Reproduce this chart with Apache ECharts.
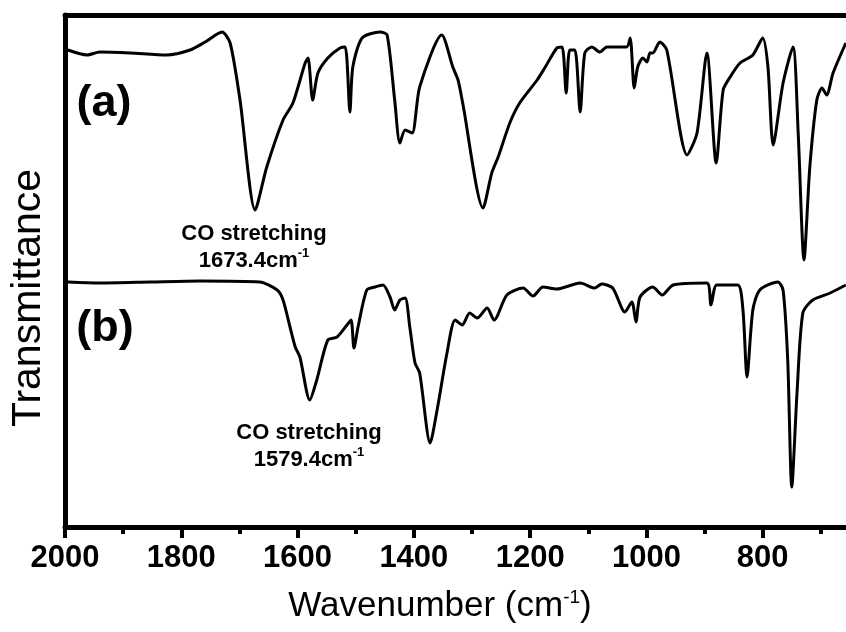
<!DOCTYPE html>
<html>
<head>
<meta charset="utf-8">
<script src="https://cdn.jsdelivr.net/npm/echarts@6/dist/echarts.min.js"></script>
<style>
  html, body { margin: 0; padding: 0; background: #fff; }
  #chart { width: 846px; height: 632px; }
</style>
</head>
<body>
<div id="chart"></div>
<script>
// FTIR spectra (transmittance in arbitrary units)
const wavenumberA = [1995, 1962, 1940, 1888, 1825, 1785, 1759, 1730, 1716, 1699, 1673, 1653, 1625, 1608, 1587, 1582, 1574, 1565, 1548, 1527, 1518, 1510, 1505, 1489, 1458, 1446, 1433, 1424, 1415, 1403, 1390, 1352, 1333, 1324, 1316, 1281, 1266, 1255, 1235, 1218, 1188, 1175, 1154, 1145, 1138, 1132, 1123, 1114, 1106, 1094, 1080, 1068, 1034, 1028, 1021, 1015, 1006, 999, 994, 989, 977, 965, 930, 913, 896, 880, 868, 856, 839, 817, 800, 791, 782, 765, 748, 739, 729, 719, 707, 698, 690, 679, 657];
const transA = [477, 472, 475, 474, 472, 477, 485, 495, 484, 427, 317, 360, 407, 424, 464, 469, 427, 454, 469, 479, 480, 415, 460, 489, 495, 492, 427, 384, 397, 394, 440, 492, 460, 447, 424, 319, 354, 370, 404, 424, 447, 459, 479, 480, 434, 477, 477, 415, 474, 480, 475, 480, 480, 489, 439, 460, 469, 465, 474, 474, 485, 477, 372, 394, 474, 364, 437, 450, 464, 472, 489, 460, 382, 444, 480, 394, 267, 360, 427, 439, 432, 454, 484];

const wavenumberB = [1995, 1940, 1854, 1768, 1665, 1635, 1625, 1613, 1604, 1596, 1579, 1567, 1548, 1532, 1515, 1508, 1503, 1496, 1481, 1467, 1453, 1441, 1433, 1424, 1415, 1407, 1398, 1390, 1372, 1360, 1343, 1329, 1317, 1304, 1291, 1274, 1262, 1240, 1212, 1195, 1178, 1154, 1114, 1089, 1077, 1058, 1037, 1025, 1018, 1011, 989, 973, 954, 896, 889, 879, 843, 834, 827, 817, 805, 774, 765, 757, 750, 741, 731, 714, 684, 657];
const transB = [245, 244, 245, 246, 245, 237, 227, 200, 180, 170, 127, 147, 187, 190, 202, 207, 179, 200, 237, 240, 242, 230, 217, 227, 229, 200, 164, 154, 84, 117, 174, 207, 202, 214, 209, 219, 207, 232, 239, 231, 240, 238, 244, 239, 243, 239, 215, 225, 205, 230, 240, 232, 242, 244, 222, 242, 242, 217, 150, 217, 237, 245, 237, 167, 40, 134, 214, 227, 234, 242];

const xTicks = [2000, 1800, 1600, 1400, 1200, 1000, 800];

const zip = (xs, ys) => xs.map((x, i) => [x, ys[i]]);

const chart = echarts.init(document.getElementById('chart'), null, {renderer: 'canvas'});

const titleFont = 'Arial, "Liberation Sans", sans-serif';

function annot(x, y, wn) {
    return {
        type: 'text',
        x: x, y: y,
        style: {
            text: 'CO stretching\n{n|' + wn + 'cm}{s|-1}',
            font: 'bold 22px ' + titleFont,
            fill: '#000',
            align: 'center',
            verticalAlign: 'top',
            lineHeight: 27,
            rich: {
                n: {fontSize: 22, fontWeight: 'bold', fontFamily: titleFont, lineHeight: 27},
                s: {fontSize: 13, fontWeight: 'bold', fontFamily: titleFont, verticalAlign: 'top', padding: [0, 0, 10, 0], lineHeight: 27}
            }
        }
    };
}

const option = {
    animation: false,
    backgroundColor: '#fff',
    // plot runs past the right edge of the picture (axis cut at ~657 cm-1)
    grid: {left: 65, top: 15, bottom: 105, width: 814, outerBoundsMode: 'none', containLabel: false},
    xAxis: [
        {
            type: 'value',
            inverse: true,
            min: 600,
            max: 2000,
            interval: 200,
            axisLine: {show: true, onZero: false, lineStyle: {color: '#000', width: 5}},
            axisTick: {show: true, inside: false, length: 11, lineStyle: {color: '#000', width: 4}},
            minorTick: {show: true, splitNumber: 2, length: 7, lineStyle: {color: '#000', width: 4}},
            axisLabel: {
                margin: 16,
                color: '#000',
                fontSize: 31,
                fontWeight: 'bold',
                fontFamily: titleFont,
                formatter: v => (xTicks.indexOf(v) >= 0 ? String(v) : '')
            },
            splitLine: {show: false}
        },
        {
            type: 'value',
            position: 'top',
            inverse: true,
            min: 600,
            max: 2000,
            axisLine: {show: true, onZero: false, lineStyle: {color: '#000', width: 5}},
            axisTick: {show: false},
            axisLabel: {show: false},
            splitLine: {show: false}
        }
    ],
    yAxis: {
        type: 'value',
        min: 0,
        max: 512,
        axisLine: {show: true, onZero: false, lineStyle: {color: '#000', width: 5}},
        axisTick: {show: false},
        axisLabel: {show: false},
        splitLine: {show: false}
    },
    series: [
        {
            name: '(a)',
            type: 'line',
            data: zip(wavenumberA, transA),
            showSymbol: false,
            smooth: 0.25,
            lineStyle: {color: '#000', width: 3}
        },
        {
            name: '(b)',
            type: 'line',
            data: zip(wavenumberB, transB),
            showSymbol: false,
            smooth: 0.25,
            lineStyle: {color: '#000', width: 3}
        }
    ],
    graphic: [
        {type: 'text', x: 104, y: 104, style: {text: '(a)', font: 'bold 45px ' + titleFont, fill: '#000', align: 'center', verticalAlign: 'middle'}},
        {type: 'text', x: 105, y: 329, style: {text: '(b)', font: 'bold 45px ' + titleFont, fill: '#000', align: 'center', verticalAlign: 'middle'}},
        annot(254, 220, '1673.4'),
        annot(309, 419, '1579.4'),
        {
            type: 'text', x: 29, y: 298, rotation: Math.PI / 2,
            style: {text: 'Transmittance', font: '41px ' + titleFont, fill: '#000', align: 'center', verticalAlign: 'middle'}
        },
        {
            type: 'text', x: 440, y: 606,
            style: {
                text: '{big|Wavenumber (cm}{sup|-1}{big|)}',
                font: '35px ' + titleFont,
                fill: '#000',
                align: 'center',
                verticalAlign: 'middle',
                rich: {
                    big: {fontSize: 35, fontFamily: titleFont},
                    sup: {fontSize: 19, fontFamily: titleFont, verticalAlign: 'top', padding: [0, 0, 16, 0]}
                }
            }
        }
    ]
};

chart.setOption(option);
</script>
</body>
</html>
